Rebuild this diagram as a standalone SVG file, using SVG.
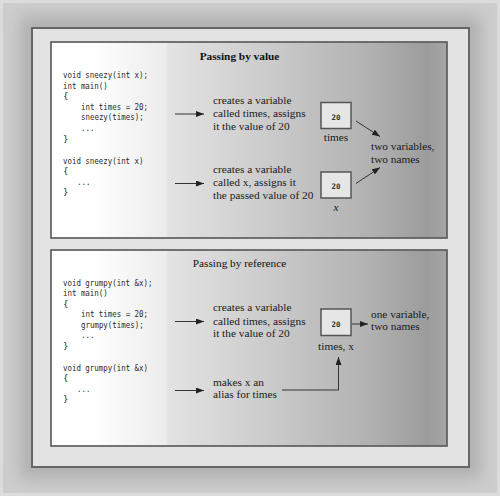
<svg xmlns="http://www.w3.org/2000/svg" width="500" height="496" viewBox="0 0 500 496">
<style>
.code{font-family:"DejaVu Sans Mono","Liberation Mono",monospace;font-size:9px;fill:#2a2a2a}
.txt{font-family:"Liberation Serif","Times New Roman",serif;font-size:11.3px;fill:#1a1a1a}
.ttl{font-family:"Liberation Serif","Times New Roman",serif;font-size:11.3px;fill:#111;text-anchor:middle}
.box{fill:#e6e6e6;stroke:#555;stroke-width:1.5}
.val{font-family:"DejaVu Sans Mono","Liberation Mono",monospace;font-size:7.5px;font-weight:bold;fill:#333;text-anchor:middle}
.panel{stroke:#555;stroke-width:1.6}
.conn{fill:none;stroke:#333;stroke-width:1}
</style>
<defs>
<linearGradient id="pg" x1="0" y1="0" x2="1" y2="0">
<stop offset="0" stop-color="#ffffff"/>
<stop offset="0.1" stop-color="#ffffff"/>
<stop offset="0.29" stop-color="#ececec"/>
<stop offset="0.295" stop-color="#e3e3e3"/>
<stop offset="0.5" stop-color="#d0d0d0"/>
<stop offset="0.8" stop-color="#b2b2b2"/>
<stop offset="0.95" stop-color="#9c9c9c"/>
<stop offset="1" stop-color="#a6a6a6"/>
</linearGradient>
<filter id="blur" x="-0.1" y="-0.1" width="1.2" height="1.2"><feGaussianBlur stdDeviation="8"/></filter>
<marker id="ah" viewBox="0 0 8 6" refX="8" refY="3" markerWidth="8" markerHeight="6" markerUnits="userSpaceOnUse" orient="auto"><path d="M0,0 L8,3 L0,6 z" fill="#222"/></marker>
</defs>
<g id="background">
<rect x="0" y="0" width="500" height="496" fill="#dcdcdc"/>
<rect x="3" y="3" width="494" height="490" fill="#cdcdcd"/>
<rect x="20" y="16" width="461" height="463" fill="#b0b0b0" filter="url(#blur)"/>
<rect x="32" y="28" width="437" height="439" fill="#e3e3e3" stroke="#666" stroke-width="2"/>
</g>
<g id="panel-value">
<rect class="panel" x="51" y="42" width="396" height="196" fill="url(#pg)"/>
<text class="ttl" x="239.5" y="60" font-weight="bold">Passing by value</text>
</g>
<g id="code-value">
<text class="code" x="63" y="78" textLength="85" lengthAdjust="spacingAndGlyphs">void sneezy(int x);</text>
<text class="code" x="63" y="88.6" textLength="44.7" lengthAdjust="spacingAndGlyphs">int main()</text>
<text class="code" x="63" y="99.2">{</text>
<text class="code" x="81" y="109.8" textLength="67" lengthAdjust="spacingAndGlyphs">int times = 20;</text>
<text class="code" x="81" y="120.4" textLength="62.6" lengthAdjust="spacingAndGlyphs">sneezy(times);</text>
<text class="code" x="81" y="131" textLength="13.4" lengthAdjust="spacingAndGlyphs">...</text>
<text class="code" x="63" y="141.6">}</text>
<text class="code" x="63" y="163.5" textLength="80.5" lengthAdjust="spacingAndGlyphs">void sneezy(int x)</text>
<text class="code" x="63" y="174">{</text>
<text class="code" x="77" y="184.6" textLength="13.4" lengthAdjust="spacingAndGlyphs">...</text>
<text class="code" x="63" y="195.2">}</text>
</g>
<g id="note-value-1">
<text class="txt" x="213" y="104">creates a variable</text>
<text class="txt" x="213" y="117">called times, assigns</text>
<text class="txt" x="213" y="130">it the value of 20</text>
</g>
<g id="note-value-2">
<text class="txt" x="213" y="173">creates a variable</text>
<text class="txt" x="213" y="186">called x, assigns it</text>
<text class="txt" x="213" y="199">the passed value of 20</text>
</g>
<g id="box-times">
<rect class="box" x="321" y="102.5" width="30" height="26"/>
<text class="val" x="336" y="120">20</text>
<text class="txt" x="336" y="141" text-anchor="middle">times</text>
</g>
<g id="box-x">
<rect class="box" x="321" y="172" width="30" height="26"/>
<text class="val" x="336" y="188.5">20</text>
<text class="txt" x="336" y="210.5" text-anchor="middle" font-style="italic">x</text>
</g>
<g id="label-two">
<text class="txt" x="371" y="150">two variables,</text>
<text class="txt" x="371" y="163">two names</text>
</g>
<g id="panel-reference">
<rect class="panel" x="51" y="250" width="396" height="196" fill="url(#pg)"/>
<text class="ttl" x="239.5" y="267">Passing by reference</text>
</g>
<g id="code-reference">
<text class="code" x="63" y="285.5" textLength="89.4" lengthAdjust="spacingAndGlyphs">void grumpy(int &amp;x);</text>
<text class="code" x="63" y="296" textLength="44.7" lengthAdjust="spacingAndGlyphs">int main()</text>
<text class="code" x="63" y="306.5">{</text>
<text class="code" x="81" y="317" textLength="67" lengthAdjust="spacingAndGlyphs">int times = 20;</text>
<text class="code" x="81" y="327.5" textLength="62.6" lengthAdjust="spacingAndGlyphs">grumpy(times);</text>
<text class="code" x="81" y="338" textLength="13.4" lengthAdjust="spacingAndGlyphs">...</text>
<text class="code" x="63" y="348.5">}</text>
<text class="code" x="63" y="370.5" textLength="85" lengthAdjust="spacingAndGlyphs">void grumpy(int &amp;x)</text>
<text class="code" x="63" y="381">{</text>
<text class="code" x="77" y="391.5" textLength="13.4" lengthAdjust="spacingAndGlyphs">...</text>
<text class="code" x="63" y="402">}</text>
</g>
<g id="note-ref-1">
<text class="txt" x="213" y="311">creates a variable</text>
<text class="txt" x="213" y="324.5">called times, assigns</text>
<text class="txt" x="213" y="337">it the value of 20</text>
</g>
<g id="note-ref-2">
<text class="txt" x="213" y="386">makes x an</text>
<text class="txt" x="213" y="398">alias for times</text>
</g>
<g id="box-times-x">
<rect class="box" x="321" y="309" width="30" height="26.5"/>
<text class="val" x="336" y="327">20</text>
<text class="txt" x="336" y="350" text-anchor="middle">times, x</text>
</g>
<g id="label-one">
<text class="txt" x="371" y="317.5">one variable,</text>
<text class="txt" x="371" y="330">two names</text>
</g>
<g id="connectors">
<line class="conn" x1="175" y1="114" x2="204" y2="114" marker-end="url(#ah)"/>
<line class="conn" x1="175" y1="183.5" x2="204" y2="183.5" marker-end="url(#ah)"/>
<line class="conn" x1="356" y1="121" x2="380" y2="136.5" marker-end="url(#ah)"/>
<line class="conn" x1="356" y1="183.5" x2="380" y2="167.5" marker-end="url(#ah)"/>
<line class="conn" x1="175" y1="321.5" x2="204" y2="321.5" marker-end="url(#ah)"/>
<line class="conn" x1="175" y1="390.5" x2="204" y2="390.5" marker-end="url(#ah)" stroke="#666"/>
<line class="conn" x1="352" y1="324" x2="368" y2="324" marker-end="url(#ah)"/>
<polyline class="conn" points="282,390 338.5,390 338.5,357" marker-end="url(#ah)"/>
</g>
</svg>
